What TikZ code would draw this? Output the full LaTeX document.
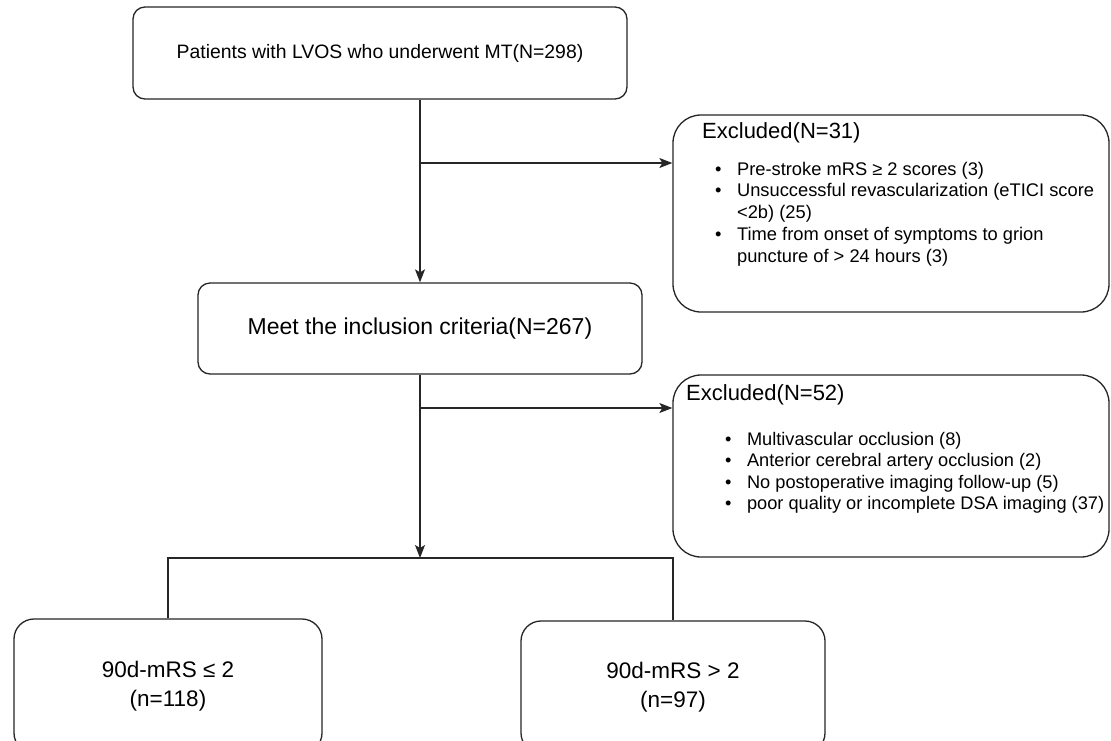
\documentclass[tikz,border=0pt]{standalone}
\usepackage{fontspec}
\setmainfont{Liberation Sans}
\usetikzlibrary{arrows.meta}
\begin{document}
\begin{tikzpicture}[x=1pt,y=-1pt,
  box/.style={draw=black!85, line width=1.3pt, inner sep=0pt, align=center},
  mainbox/.style={box, rounded corners=12pt},
  exbox/.style={box, rounded corners=28pt},
  outbox/.style={box, rounded corners=20pt},
  conn/.style={draw=black!85, line width=1.3pt},
  arr/.style={conn, -{Stealth[length=13pt,width=10pt,inset=3pt]}},
  title/.style={anchor=base west, inner sep=0pt, font=\fontsize{22}{26}\selectfont},
  items/.style={anchor=base west, inner sep=0pt, align=left},
]
\useasboundingbox (0,0) rectangle (1111,740);
\fill[white] (0,0) rectangle (1111,740);

% main boxes
\node[mainbox, minimum width=494pt, minimum height=92pt,
      font=\fontsize{19.4}{24}\selectfont] (b1) at (380,53)
      {\raisebox{-2pt}{Patients with LVOS who underwent MT(N=298)}};
\node[mainbox, minimum width=444pt, minimum height=91pt,
      font=\fontsize{23}{27}\selectfont] (b2) at (420,328.5)
      {Meet the inclusion criteria(N=267)};

% exclusion boxes
\node[exbox, minimum width=436pt, minimum height=197pt] (e1) at (891,213.5) {};
\node[exbox, minimum width=436pt, minimum height=182pt] (e2) at (891,466) {};

\node[title] (e1t) at (702,138) {Excluded(N=31)};
\node[items] (e1l) at (715,175) {\fontsize{18.3}{21.8}\selectfont
  \begin{tabular}[t]{@{}l@{\hspace{15.5pt}}l@{}}
  \textbullet & Pre-stroke mRS ≥ 2 scores (3)\\
  \textbullet & Unsuccessful revascularization (eTICI score\\
              & <2b) (25)\\
  \textbullet & Time from onset of symptoms to grion\\
              & puncture of > 24 hours (3)
  \end{tabular}};

\node[title] (e2t) at (686,400) {Excluded(N=52)};
\node[items] (e2l) at (725,445) {\fontsize{18.2}{21.5}\selectfont
  \begin{tabular}[t]{@{}l@{\hspace{15.5pt}}l@{}}
  \textbullet & Multivascular occlusion (8)\\
  \textbullet & Anterior cerebral artery occlusion (2)\\
  \textbullet & No postoperative imaging follow-up (5)\\
  \textbullet & poor quality or incomplete DSA imaging (37)
  \end{tabular}};

% outcome boxes
\node[outbox, minimum width=308pt, minimum height=134pt,
      font=\fontsize{22.5}{29}\selectfont] (o1) at (168,686)
      {90d-mRS ≤ 2\\(n=118)};
\node[outbox, minimum width=304pt, minimum height=132pt,
      font=\fontsize{22.5}{29}\selectfont] (o2) at (673,687)
      {90d-mRS > 2\\(n=97)};

% junctions
\coordinate (j1) at (420,163);
\coordinate (j2) at (420,408);
\coordinate (j3) at (420,558);

% connectors
\draw[arr] (b2.north |- b1.south) -- (b2.north);
\draw[arr] (j1) -- (j1 -| e1.west);
\draw[arr] (b2.south) -- (j3);
\draw[arr] (j2) -- (j2 -| e2.west);
\draw[conn] (o1.north) |- (o2.north |- j3) -- (o2.north);
\end{tikzpicture}
\end{document}
